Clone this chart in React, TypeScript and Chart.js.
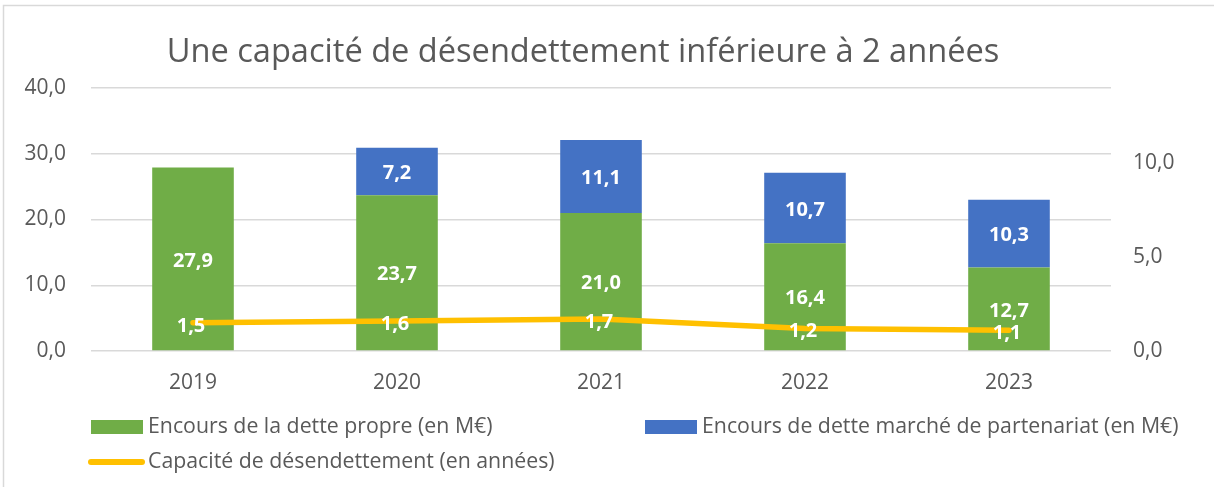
import React, { useEffect, useRef } from "react";
import { Chart, registerables } from "chart.js";

Chart.register(...registerables);

const TITLE = "Une capacité de désendettement inférieure à 2 années";
const years = ["2019", "2020", "2021", "2022", "2023"];
const detteProprе = [27.9, 23.7, 21.0, 16.4, 12.7];
const detteMarche = [null, 7.2, 11.1, 10.7, 10.3];
const capacite = [1.5, 1.6, 1.7, 1.2, 1.1];
const leftTicks = [0, 10, 20, 30, 40];
const rightTicks = [0, 5, 10];
const rightMax = 14;

const labelProprе = "Encours de la dette propre (en M€)";
const labelMarche = "Encours de dette marché de partenariat (en M€)";
const labelCapacite = "Capacité de désendettement (en années)";

const GREEN = "#70AD47";
const BLUE = "#4472C4";
const YELLOW = "#FFC000";
const TEXT = "#595959";
const GRID = "#D9D9D9";
const FONT = "'Open Sans'";

const fmt = (v: number) => v.toFixed(1).replace(".", ",");

const titlePlugin = {
  id: "customTitle",
  afterDraw(chart: any) {
    const ctx = chart.ctx;
    ctx.save();
    ctx.fillStyle = TEXT;
    ctx.font = `32.6px ${FONT}`;
    ctx.textAlign = "center";
    ctx.textBaseline = "alphabetic";
    ctx.fillText(TITLE, 583, 62);
    ctx.restore();
  },
};

const dataLabelPlugin = {
  id: "dataLabels",
  afterDatasetsDraw(chart: any) {
    const ctx = chart.ctx;
    ctx.save();
    ctx.fillStyle = "#FFFFFF";
    ctx.font = `bold 20px ${FONT}`;
    ctx.textAlign = "center";
    ctx.textBaseline = "middle";
    chart.data.datasets.forEach((ds: any, i: number) => {
      const meta = chart.getDatasetMeta(i);
      meta.data.forEach((el: any, j: number) => {
        const v = ds.data[j];
        if (v === null || v === undefined) return;
        if (ds.type === "line") {
          ctx.fillText(fmt(v), el.x - 2, el.y + 3);
        } else {
          const c = el.getCenterPoint();
          ctx.fillText(fmt(v), c.x, c.y + 2);
        }
      });
    });
    ctx.restore();
  },
};

const legendPlugin = {
  id: "customLegend",
  afterDraw(chart: any) {
    const ctx = chart.ctx;
    const ds = chart.data.datasets;
    const items = [
      { ds: ds[1], x: 91, y: 427, kind: "box" },
      { ds: ds[2], x: 645, y: 427, kind: "box" },
      { ds: ds[0], x: 91, y: 462, kind: "line" },
    ];
    ctx.save();
    ctx.font = `21.3px ${FONT}`;
    ctx.textBaseline = "middle";
    ctx.textAlign = "left";
    items.forEach((it) => {
      if (it.kind === "box") {
        ctx.fillStyle = it.ds.backgroundColor;
        ctx.fillRect(it.x, it.y - 7, 52, 14);
      } else {
        ctx.strokeStyle = it.ds.borderColor;
        ctx.lineWidth = 6;
        ctx.lineCap = "round";
        ctx.beginPath();
        ctx.moveTo(it.x, it.y);
        ctx.lineTo(it.x + 51, it.y);
        ctx.stroke();
      }
      ctx.fillStyle = TEXT;
      ctx.fillText(it.ds.label, it.x + 57, it.y);
    });
    ctx.restore();
  },
};

const bgPlugin = {
  id: "bg",
  beforeDraw(chart: any) {
    const ctx = chart.ctx;
    ctx.save();
    ctx.fillStyle = "#FFFFFF";
    ctx.fillRect(0, 0, chart.width, chart.height);
    ctx.strokeStyle = GRID;
    ctx.lineWidth = 1.5;
    ctx.strokeRect(3.5, 5.5, chart.width + 20, chart.height + 20);
    ctx.restore();
  },
};

export default function App() {
  const ref = useRef<HTMLCanvasElement>(null);

  useEffect(() => {
    if (!ref.current) return;
    const chart = new Chart(ref.current, {
      type: "bar",
      data: {
        labels: years,
        datasets: [
          {
            type: "line",
            label: labelCapacite,
            data: capacite,
            yAxisID: "y1",
            borderColor: YELLOW,
            backgroundColor: YELLOW,
            borderWidth: 5.5,
            pointRadius: 0,
            borderCapStyle: "round",
            tension: 0,
            order: 0,
          } as any,
          {
            type: "bar",
            label: labelProprе,
            data: detteProprе,
            yAxisID: "y",
            backgroundColor: GREEN,
            categoryPercentage: 0.4,
            barPercentage: 1,
            order: 1,
          },
          {
            type: "bar",
            label: labelMarche,
            data: detteMarche,
            yAxisID: "y",
            backgroundColor: BLUE,
            categoryPercentage: 0.4,
            barPercentage: 1,
            order: 1,
          },
        ],
      },
      options: {
        responsive: false,
        animation: false,
        layout: { padding: { left: 0, right: 0, top: 88, bottom: 91 } },
        plugins: {
          legend: { display: false },
          tooltip: { enabled: false },
          title: { display: false },
        },
        scales: {
          x: {
            stacked: true,
            grid: { display: false, drawTicks: false },
            border: { display: false },
            ticks: { color: TEXT, font: { family: FONT, size: 21 }, padding: 19 },
            afterFit: (s: any) => {
              s.height = 45;
            },
          },
          y: {
            stacked: true,
            position: "left",
            min: 0,
            max: 40,
            grid: { color: GRID, lineWidth: 1.5, drawTicks: false },
            border: { display: false },
            afterBuildTicks: (s: any) => {
              s.ticks = leftTicks.map((v) => ({ value: v }));
            },
            ticks: {
              color: TEXT,
              font: { family: FONT, size: 21 },
              padding: 25,
              callback: (v: any) => fmt(Number(v)),
            },
            afterFit: (s: any) => {
              s.width = 91;
            },
          },
          y1: {
            position: "right",
            min: 0,
            max: rightMax,
            grid: { display: false, drawTicks: false },
            border: { display: false },
            afterBuildTicks: (s: any) => {
              s.ticks = rightTicks.map((v) => ({ value: v }));
            },
            ticks: {
              color: TEXT,
              font: { family: FONT, size: 21 },
              padding: 22,
              callback: (v: any) => fmt(Number(v)),
            },
            afterFit: (s: any) => {
              s.width = 103;
            },
          },
        },
      } as any,
      plugins: [bgPlugin, dataLabelPlugin, legendPlugin, titlePlugin],
    });
    return () => chart.destroy();
  }, []);

  return (
    <div
      style={{
        position: "fixed",
        left: 0,
        top: 0,
        width: 1214,
        height: 487,
        overflow: "hidden",
        background: "#fff",
      }}
    >
      <canvas ref={ref} width={1214} height={487} style={{ display: "block" }} />
    </div>
  );
}
